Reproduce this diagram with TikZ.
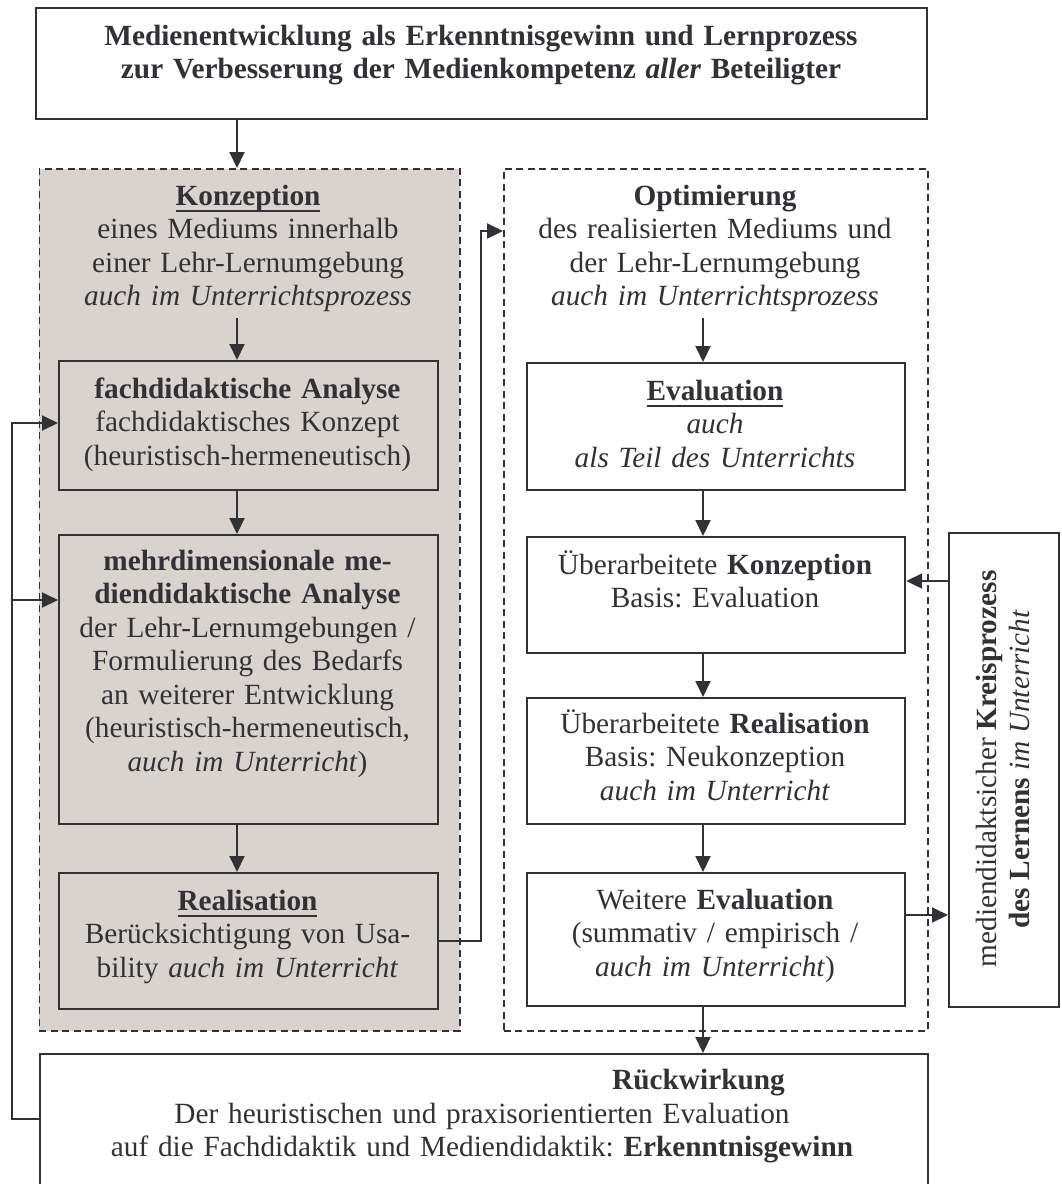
\documentclass[tikz,border=0pt]{standalone}
\usepackage{fontspec}
\setmainfont{Liberation Serif}
\usetikzlibrary{arrows.meta}
\frenchspacing

\definecolor{ink}{RGB}{50,50,54}
\definecolor{panel}{RGB}{217,211,208}

% bold, underlined heading with a thick rule below the baseline
\newsavebox{\headbox}
\newcommand{\ulbf}[1]{\leavevmode\sbox{\headbox}{\textbf{#1}}\rlap{\rule[-7pt]{\wd\headbox}{2pt}}\usebox{\headbox}}

\tikzset{
  frame/.style={draw=ink, line width=2.2pt, rectangle, inner sep=0pt, anchor=north west},
  group/.style={draw=ink, line width=1.8pt, dash pattern=on 7pt off 4.5pt, rectangle, inner sep=0pt, anchor=north west},
  txt/.style={anchor=base, align=center, inner sep=0pt},
  flow/.style={draw=ink, line width=2pt, -{Triangle[length=16pt,width=15pt]}},
}

\begin{document}
\begin{tikzpicture}[x=1pt, y=-1pt, color=ink, font=\fontsize{29.3}{33.5}\selectfont]
\clip (0,0) rectangle (1061,1184);
\fill[white] (0,0) rectangle (1061,1184);

% ---------- frames ----------
\node[frame, minimum width=891, minimum height=111] (top) at (35,7) {};
\node[group, fill=panel, minimum width=420.5, minimum height=862] (leftgroup) at (38.5,168) {};
\node[group, minimum width=424, minimum height=862] (rightgroup) at (503,168) {};

\node[frame, minimum width=379, minimum height=129] (fach) at (58,360) {};
\node[frame, minimum width=379, minimum height=289] (mehr) at (58,534) {};
\node[frame, minimum width=379, minimum height=136] (real) at (58,872) {};

\node[frame, minimum width=378, minimum height=127] (eval) at (526,362) {};
\node[frame, minimum width=378, minimum height=116] (konz2) at (526,536) {};
\node[frame, minimum width=378, minimum height=126] (real2) at (526,697) {};
\node[frame, minimum width=378, minimum height=133] (weval) at (526,872) {};

\node[frame, minimum width=110, minimum height=474] (kreis) at (948,532) {};
\node[frame, minimum width=888, minimum height=170] (bottom) at (39,1053) {};

% ---------- texts ----------
\node[txt, text width=880] (toptext) at (481,45)
  {\textbf{Medienentwicklung als Erkenntnisgewinn und Lernprozess}\\
   \textbf{zur Verbesserung der Medienkompetenz \textit{aller} Beteiligter}};

\node[txt, text width=410] (konztext) at (248,205)
  {\ulbf{Konzeption}\\ eines Mediums innerhalb\\ einer Lehr-Lernumgebung\\ \textit{auch im Unterrichtsprozess}};
\node[txt, text width=370] (facht) at (247.5,398)
  {\textbf{fachdidaktische Analyse}\\ fachdidaktisches Konzept\\ (heuristisch-hermeneutisch)};
\node[txt, text width=370] (mehrt) at (247.5,570)
  {\textbf{mehrdimensionale me-}\\ \textbf{diendidaktische Analyse}\\ der Lehr-Lernumgebungen /\\
   Formulierung des Bedarfs\\ an weiterer Entwicklung\\ (heuristisch-hermeneutisch,\\ \textit{auch im Unterricht})};
\node[txt, text width=370] (realt) at (247.5,910)
  {\ulbf{Realisation}\\ Berücksichtigung von Usa-\\ bility \textit{auch im Unterricht}};

\node[txt, text width=415] (optt) at (715,205)
  {\textbf{Optimierung}\\ des realisierten Mediums und\\ der Lehr-Lernumgebung\\ \textit{auch im Unterrichtsprozess}};
\node[txt, text width=370] (evalt) at (715,400)
  {\ulbf{Evaluation}\\ \textit{auch}\\ \textit{als Teil des Unterrichts}};
\node[txt, text width=370] (konz2t) at (715,574)
  {Überarbeitete \textbf{Konzeption}\\ Basis: Evaluation};
\node[txt, text width=370] (real2t) at (715,733)
  {Überarbeitete \textbf{Realisation}\\ Basis: Neukonzeption\\ \textit{auch im Unterricht}};
\node[txt, text width=370] (wevalt) at (715,909)
  {Weitere \textbf{Evaluation}\\ (summativ / empirisch /\\ \textit{auch im Unterricht})};

\node[rotate=90, align=center, inner sep=0pt] (kreist) at (1003,769)
  {mediendidaktsicher \textbf{Kreisprozess}\\ \textbf{des Lernens} \textit{im Unterricht}};

\node[anchor=base east, inner sep=0pt] (rwtitle) at (785,1089) {\textbf{Rückwirkung}};
\node[txt, text width=880] (rwtext) at (482,1123)
  {Der heuristischen und praxisorientierten Evaluation\\
   auf die Fachdidaktik und Mediendidaktik: \textbf{Erkenntnisgewinn}};

% ---------- connectors ----------
\coordinate (lcol) at (237,0);
\coordinate (rcol) at (703,0);
\coordinate (konzout) at (237,318);
\coordinate (optout) at (703,318);
\coordinate (riser) at (481,231);
\coordinate (kreisout) at (948,581);
\coordinate (wevalout) at (904,915);
\coordinate (fbbottom) at (12,1119);
\coordinate (fbtop) at (12,423);
\coordinate (fbmid) at (12,600);

\draw[flow] (lcol |- top.south) -- (lcol |- leftgroup.north);
\draw[flow] (konzout) -- (konzout |- fach.north);
\draw[flow] (lcol |- fach.south) -- (lcol |- mehr.north);
\draw[flow] (lcol |- mehr.south) -- (lcol |- real.north);

\draw[flow] (real.east) -| (riser) -- (riser -| rightgroup.west);

\draw[flow] (optout) -- (optout |- eval.north);
\draw[flow] (rcol |- eval.south) -- (rcol |- konz2.north);
\draw[flow] (rcol |- konz2.south) -- (rcol |- real2.north);
\draw[flow] (rcol |- real2.south) -- (rcol |- weval.north);
\draw[flow] (rcol |- weval.south) -- (rcol |- bottom.north);

\draw[flow] (kreisout) -- (kreisout -| konz2.east);
\draw[flow] (wevalout) -- (wevalout -| kreis.west);

\draw[flow] (fbbottom -| bottom.west) -- (fbbottom) -- (fbtop) -- (fbtop -| fach.west);
\draw[flow] (fbmid) -- (fbmid -| mehr.west);
\end{tikzpicture}
\end{document}
